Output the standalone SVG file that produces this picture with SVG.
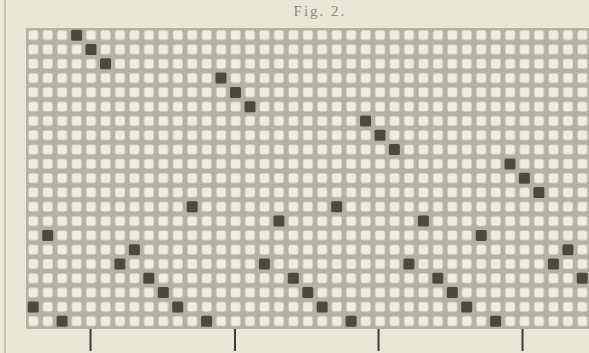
<svg xmlns="http://www.w3.org/2000/svg" width="589" height="353" viewBox="0 0 589 353">
  <style>
    .bg { fill: #e9e8d5; }
    .title { font-family: "Liberation Serif", serif; font-size: 15px; fill: #8a8a7e; letter-spacing: 2px; }
    .dark { fill: #4a4a3d; }
    .tick { stroke: #3c3c32; stroke-width: 2; }
    .edge { stroke: #b9b8a4; stroke-width: 1.5; }
  </style>
  <defs>
    <pattern id="cells" patternUnits="userSpaceOnUse" x="26" y="28" width="14.45" height="14.3">
      <rect x="0" y="0" width="14.45" height="14.3" fill="#b4b3a1"/>
      <rect x="2.5" y="2.4" width="9.6" height="9.6" rx="2" fill="#eeedde"/>
    </pattern>
    <rect id="d" class="dark" x="-5.5" y="-5.5" width="11" height="11" rx="1.5"/>
  </defs>
  <rect class="bg" x="0" y="0" width="589" height="353"/>
  <line class="edge" x1="5" y1="0" x2="5" y2="353"/>
  <text class="title" x="320" y="16" text-anchor="middle">Fig. 2.</text>
  <g id="grid">
    <rect x="26" y="28" width="563" height="300.3" fill="url(#cells)"/>
    <line x1="26" y1="328.3" x2="589" y2="328.3" stroke="#aaa996" stroke-width="1"/>
  </g>
  <g id="marks">
    <use href="#d" x="76.6" y="35.2"/>
    <use href="#d" x="91" y="49.5"/>
    <use href="#d" x="105.5" y="63.8"/>
    <use href="#d" x="221" y="78.1"/>
    <use href="#d" x="235.5" y="92.4"/>
    <use href="#d" x="250" y="106.7"/>
    <use href="#d" x="365.5" y="121"/>
    <use href="#d" x="380" y="135.3"/>
    <use href="#d" x="394.4" y="149.6"/>
    <use href="#d" x="510" y="163.9"/>
    <use href="#d" x="524.4" y="178.2"/>
    <use href="#d" x="538.9" y="192.5"/>
    <use href="#d" x="192.2" y="206.8"/>
    <use href="#d" x="336.7" y="206.8"/>
    <use href="#d" x="278.9" y="221.1"/>
    <use href="#d" x="423.4" y="221.1"/>
    <use href="#d" x="47.7" y="235.4"/>
    <use href="#d" x="481.2" y="235.4"/>
    <use href="#d" x="134.4" y="249.7"/>
    <use href="#d" x="567.9" y="249.7"/>
    <use href="#d" x="119.9" y="264"/>
    <use href="#d" x="264.4" y="264"/>
    <use href="#d" x="408.9" y="264"/>
    <use href="#d" x="553.4" y="264"/>
    <use href="#d" x="148.8" y="278.3"/>
    <use href="#d" x="293.3" y="278.3"/>
    <use href="#d" x="437.8" y="278.3"/>
    <use href="#d" x="582.3" y="278.3"/>
    <use href="#d" x="163.3" y="292.6"/>
    <use href="#d" x="307.8" y="292.6"/>
    <use href="#d" x="452.3" y="292.6"/>
    <use href="#d" x="33.2" y="306.9"/>
    <use href="#d" x="177.7" y="306.9"/>
    <use href="#d" x="322.2" y="306.9"/>
    <use href="#d" x="466.7" y="306.9"/>
    <use href="#d" x="62.1" y="321.2"/>
    <use href="#d" x="206.6" y="321.2"/>
    <use href="#d" x="351.1" y="321.2"/>
    <use href="#d" x="495.6" y="321.2"/>
  </g>
  <g id="ticks">
    <line class="tick" x1="90.5" y1="329" x2="90.5" y2="351"/>
    <line class="tick" x1="235" y1="329" x2="235" y2="351"/>
    <line class="tick" x1="378.5" y1="329" x2="378.5" y2="351"/>
    <line class="tick" x1="522.5" y1="329" x2="522.5" y2="351"/>
  </g>
</svg>
